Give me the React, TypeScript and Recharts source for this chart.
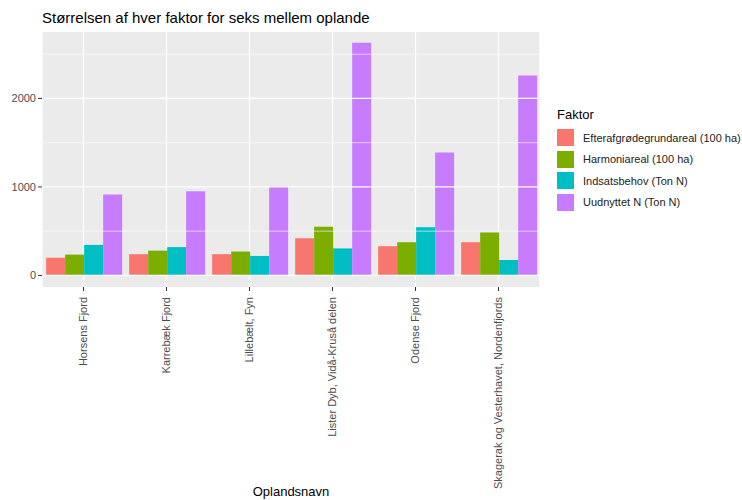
import React from 'react';
import {
  BarChart,
  Bar,
  XAxis,
  YAxis,
  CartesianGrid,
  ReferenceLine,
} from 'recharts';

const oplande = [
  'Horsens Fjord',
  'Karrebæk Fjord',
  'Lillebælt, Fyn',
  'Lister Dyb, Vidå-Kruså delen',
  'Odense Fjord',
  'Skagerak og Vesterhavet, Nordenfjords',
];

const efterafgroede = [200, 240, 240, 420, 330, 375];
const harmoniareal = [235, 280, 270, 550, 375, 485];
const indsatsbehov = [345, 320, 220, 305, 545, 175];
const uudnyttet = [915, 950, 1005, 2630, 1390, 2260];

const majorTicks = [0, 1000, 2000];
const minorTicks = [500, 1500, 2500];

const series = [
  { key: 'efterafgroede', name: 'Efterafgrødegrundareal (100 ha)', color: '#F8766D' },
  { key: 'harmoniareal', name: 'Harmoniareal (100 ha)', color: '#7CAE00' },
  { key: 'indsatsbehov', name: 'Indsatsbehov (Ton N)', color: '#00BFC4' },
  { key: 'uudnyttet', name: 'Uudnyttet N (Ton N)', color: '#C77CFF' },
];

const data = oplande.map((navn, i) => ({
  navn,
  efterafgroede: efterafgroede[i],
  harmoniareal: harmoniareal[i],
  indsatsbehov: indsatsbehov[i],
  uudnyttet: uudnyttet[i],
}));

const font = 'Arial, "Liberation Sans", sans-serif';

function RotatedTick(props: any) {
  const { x, y, payload } = props;
  return (
    <g transform={`translate(${x},${y})`}>
      <text
        x={-4}
        y={0}
        dy="0.35em"
        textAnchor="end"
        transform="rotate(-90)"
        fill="#4d4d4d"
        fontSize={11}
        fontFamily={font}
      >
        {payload.value}
      </text>
    </g>
  );
}

export default function App() {
  return (
    <div style={{ position: 'absolute', left: 0, top: 0, width: 742, height: 500, background: '#fff' }}>
      <div
        style={{
          position: 'absolute',
          left: 42,
          top: 9,
          fontFamily: font,
          fontSize: 15,
          color: '#000',
        }}
      >
        Størrelsen af hver faktor for seks mellem oplande
      </div>
      <BarChart
        width={742}
        height={500}
        data={data}
        margin={{ top: 32, right: 202, bottom: 0, left: 0 }}
        barCategoryGap="5%"
        barGap={0}
      >
        <CartesianGrid horizontal={false} vertical fill="#EBEBEB" stroke="#fff" strokeWidth={1.2} />
        {minorTicks.map((t) => (
          <ReferenceLine key={t} y={t} stroke="#fff" strokeWidth={0.6} />
        ))}
        {majorTicks.map((t) => (
          <ReferenceLine key={'m' + t} y={t} stroke="#fff" strokeWidth={1.2} />
        ))}
        <XAxis
          dataKey="navn"
          height={213}
          axisLine={false}
          tickLine={{ stroke: '#333' }}
          tickSize={4}
          interval={0}
          tick={<RotatedTick />}
          label={{
            value: 'Oplandsnavn',
            position: 'insideBottom',
            offset: 4,
            fill: '#000',
            fontSize: 13,
            fontFamily: font,
          }}
        />
        <YAxis
          width={42}
          domain={[-131, 2751]}
          allowDataOverflow
          ticks={majorTicks}
          axisLine={false}
          tickLine={{ stroke: '#333' }}
          tickSize={4}
          tick={{ fill: '#4d4d4d', fontSize: 11, fontFamily: font }}
        />
        {series.map((s) => (
          <Bar
            key={s.key}
            dataKey={s.key}
            name={s.name}
            fill={s.color}
            isAnimationActive={false}
          />
        ))}
      </BarChart>
      <div style={{ position: 'absolute', left: 557, top: 107, width: 185, fontFamily: font }}>
        <div style={{ fontSize: 13, marginBottom: 5, color: '#000' }}>Faktor</div>
        {series.map((s) => (
          <div key={s.key} style={{ display: 'flex', alignItems: 'center', height: 21.5 }}>
            <div style={{ width: 17, height: 17, background: s.color, marginRight: 9 }} />
            <span style={{ fontSize: 11, color: '#222', whiteSpace: 'nowrap' }}>{s.name}</span>
          </div>
        ))}
      </div>
    </div>
  );
}
